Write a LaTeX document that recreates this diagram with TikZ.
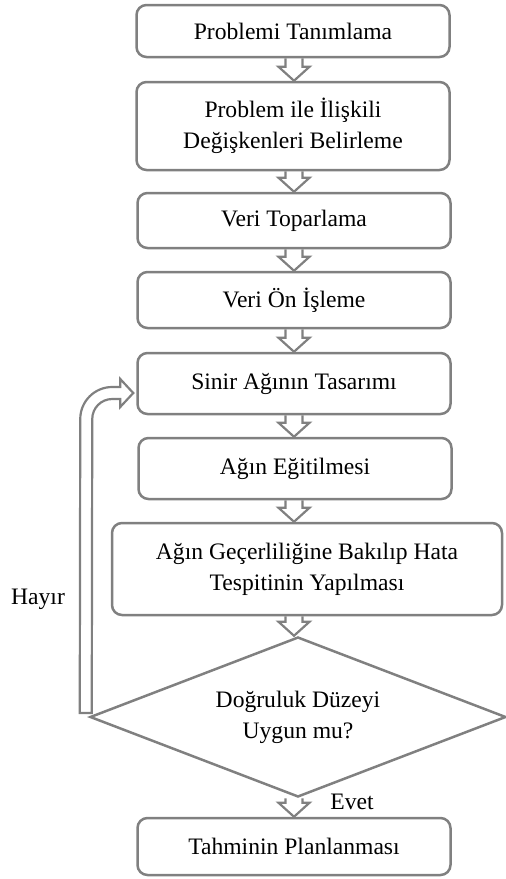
\documentclass[tikz,border=0pt]{standalone}
\usepackage{fontspec}
\setmainfont{Liberation Serif}
\usepackage{tikz}
\usetikzlibrary{shapes.geometric,calc}
\definecolor{cizgi}{RGB}{128,128,128}
\tikzset{
  yazi/.style={font=\fontsize{11.8}{15.5}\selectfont},
  kutu/.style={yazi, draw=cizgi, line width=1.25pt, rounded corners=5pt,
    minimum width=156.5pt, align=center, inner sep=0pt},
  karar/.style={yazi, draw=cizgi, line width=1.25pt, diamond, aspect=2.6,
    minimum width=208pt, minimum height=80pt, align=center, inner sep=0pt},
  okcizgi/.style={draw=cizgi, line width=1.1pt, line join=miter}
}
% iki kutu arasinda bos ok
\newcommand{\blokok}[2]{%
  \draw[okcizgi] ($(#1.south -| col)+(-8.5,0)$) -- ($(#2.north -| col)+(-8.5,-14)$)
    -- ($(#2.north -| col)+(-15.5,-14)$) -- (#2.north -| col)
    -- ($(#2.north -| col)+(15.5,-14)$) -- ($(#2.north -| col)+(8.5,-14)$)
    -- ($(#1.south -| col)+(8.5,0)$);}

\begin{document}
\begin{tikzpicture}[x=0.5pt, y=-0.5pt]
  \useasboundingbox (0,0) rectangle (506,879);
  \coordinate (col) at (294,0);

  % kutular
  \node[kutu, minimum height=26pt]   (tanim)   at (293,31)    {Problemi Tanımlama};
  \node[kutu, minimum height=44pt]   (degisken) at (293,126)  {Problem ile İlişkili\\Değişkenleri Belirleme};
  \node[kutu, minimum height=27.5pt] (veri)    at (294,220.5) {Veri Toparlama};
  \node[kutu, minimum height=28pt]   (onisle)  at (294,300)   {Veri Ön İşleme};
  \node[kutu, minimum height=30.5pt] (tasarim) at (294,383.5) {Sinir Ağının Tasarımı};
  \node[kutu, minimum height=30.5pt] (egitim)  at (295,468.5) {Ağın Eğitilmesi};
  \node[kutu, minimum height=46pt, minimum width=195pt] (hata) at (307,569)
    {Ağın Geçerliliğine Bakılıp Hata\\Tespitinin Yapılması};
  \node[karar] (dogru) at (298,717) {Doğruluk Düzeyi\\Uygun mu?};
  \node[kutu, minimum height=28.5pt] (tahmin)  at (294,846.5) {Tahminin Planlanması};

  % oklar
  \blokok{tanim}{degisken}
  \blokok{degisken}{veri}
  \blokok{veri}{onisle}
  \blokok{onisle}{tasarim}
  \blokok{tasarim}{egitim}
  \blokok{egitim}{hata}
  \blokok{hata}{dogru}
  \blokok{dogru}{tahmin}

  % geri donus
  \coordinate (F) at ($(dogru.west)+(-3,-4)$);
  \coordinate (T) at ($(tasarim.west)+(-3,9.5)$);
  \draw[okcizgi] ($(F)+(-6,0)$) -- ($(T)+(-53,26)$)
    arc[start angle=180, end angle=270, radius=32]
    -- ($(T)+(-13,-6)$) -- ($(T)+(-13,-14)$) -- (T) -- ($(T)+(-13,14)$)
    -- ($(T)+(-13,6)$) -- ($(T)+(-21,6)$)
    arc[start angle=270, end angle=180, radius=20]
    -- ($(F)+(6,0)$) -- cycle;

  % etiketler
  \node[yazi] (hayir) at (38,599) {Hayır};
  \node[yazi] (evet)  at (352,802) {Evet};
\end{tikzpicture}
\end{document}
